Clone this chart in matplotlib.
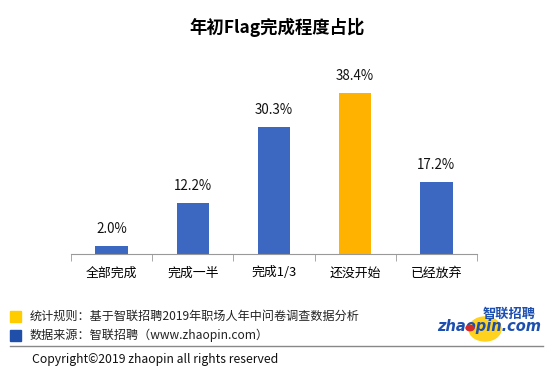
import matplotlib
matplotlib.use("Agg")
import matplotlib.pyplot as plt
from matplotlib.patches import Ellipse, Circle, Rectangle
from matplotlib.lines import Line2D

plt.rcParams['font.family'] = ['Noto Sans CJK SC', 'DejaVu Sans']

categories = ["全部完成", "完成一半", "完成1/3", "还没开始", "已经放弃"]
values = [2.0, 12.2, 30.3, 38.4, 17.2]
highlight = "还没开始"

blue = "#3C68C2"
orange = "#FFB300"

W, H = 553, 373
fig = plt.figure(figsize=(W / 100, H / 100), dpi=100)

# axes placement in pixels: x 71..477, baseline y=254
ax = fig.add_axes([71 / W, (H - 254) / H, 406 / W, 189 / H])
colors = [orange if c == highlight else blue for c in categories]
x = range(len(categories))
ax.bar(x, values, width=0.4, color=colors, zorder=2)
for xi, v in zip(x, values):
    ax.annotate(f"{v:.1f}%", (xi, v), xytext=(0, 7), textcoords="offset points",
                ha="center", va="bottom", fontsize=9.6, color="#111111")

ax.set_xlim(-0.5, len(categories) - 0.5)
ax.set_ylim(0, 45)
ax.set_xticks(list(x))
ax.set_xticklabels(categories, fontsize=9.3)
ax.set_xticks([i - 0.5 for i in range(len(categories) + 1)], minor=True)
ax.tick_params(axis="x", which="major", length=0, pad=9)
ax.tick_params(axis="x", which="minor", length=5, color="#999999", direction="out")
ax.set_yticks([])
for s in ["top", "right", "left"]:
    ax.spines[s].set_visible(False)
ax.spines["bottom"].set_color("#999999")
ax.spines["bottom"].set_linewidth(0.8)

# title
fig.text(277 / W, 1 - 27 / H, "年初Flag完成程度占比", ha="center", va="center",
         fontsize=12.5, fontweight="bold")

# footer
fig.patches.append(Rectangle((10 / W, 1 - 322 / H), 11 / W, 11 / H,
                             transform=fig.transFigure, color="#FFCC00"))
fig.patches.append(Rectangle((10 / W, 1 - 341 / H), 11 / W, 11 / H,
                             transform=fig.transFigure, color="#1F4FA8"))
fig.text(30 / W, 1 - 316 / H, "统计规则：基于智联招聘2019年职场人年中问卷调查数据分析",
         ha="left", va="center", fontsize=8.7, color="#222222")
fig.text(30 / W, 1 - 335 / H, "数据来源：智联招聘（www.zhaopin.com）",
         ha="left", va="center", fontsize=8.7, color="#222222")
fig.lines.append(Line2D([10 / W, 543 / W], [1 - 346 / H, 1 - 346 / H],
                        transform=fig.transFigure, color="#888888", linewidth=1))
fig.text(32 / W, 1 - 360 / H, "Copyright©2019 zhaopin all rights reserved",
         ha="left", va="center", fontsize=8.8, color="#111111")

# logo
fig.patches.append(Ellipse((485 / W, 1 - 329 / H), 32 / W, 24 / H,
                           transform=fig.transFigure, color="#FFD21F", zorder=1))
fig.text(509 / W, 1 - 314 / H, "智联招聘", ha="center", va="center",
         fontsize=9.5, fontweight="bold", color="#1D4FB0", style="italic", zorder=3)
fig.text(489 / W, 1 - 327 / H, "zhaopin.com", ha="center", va="center",
         fontsize=10.5, fontweight="bold", color="#1D4FB0", style="italic", zorder=3,
         family="DejaVu Sans")
fig.patches.append(Circle((470 / W, 1 - 328 / H), 4 / W,
                          transform=fig.transFigure, color="#D52B2B", zorder=4))

fig.savefig("out.png", dpi=100)
